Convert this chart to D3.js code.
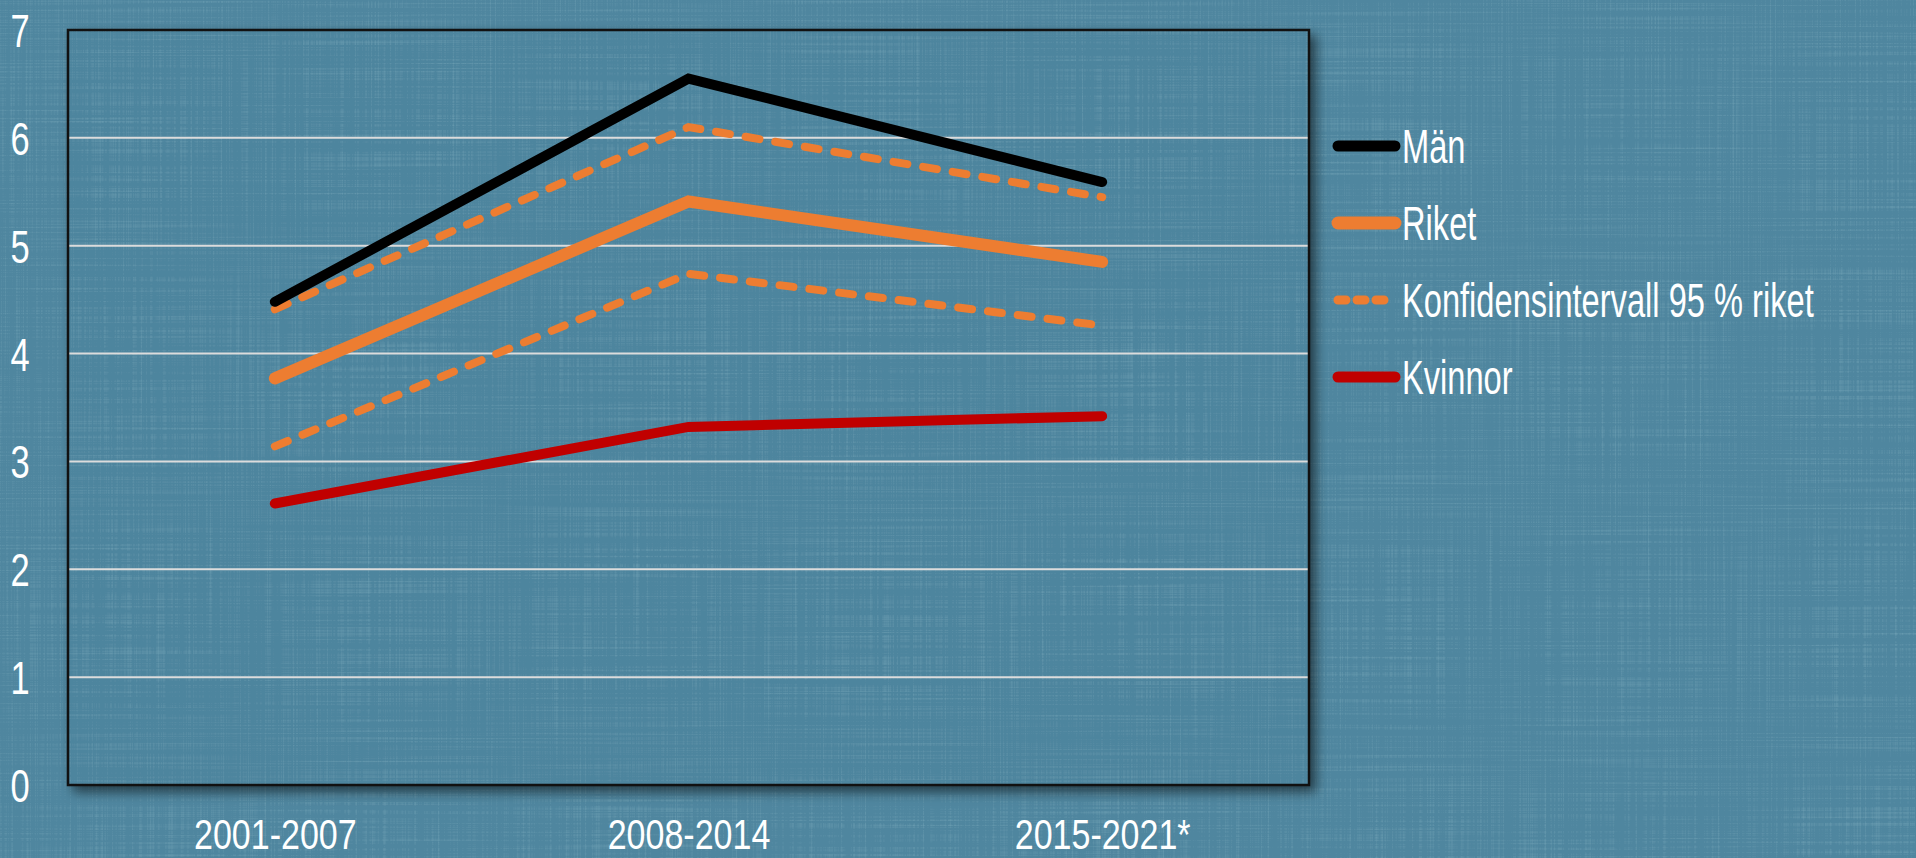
<!DOCTYPE html>
<html>
<head>
<meta charset="utf-8">
<script src="https://cdn.jsdelivr.net/npm/d3@7"></script>
<style>
  html, body { margin: 0; padding: 0; background: #4f869f; overflow: hidden; }
  text { font-family: "Liberation Sans", Arial, sans-serif; fill: #fff; }
</style>
</head>
<body>
<div id="chart"></div>
<script>
// data
var periods = ["2001-2007", "2008-2014", "2015-2021*"];
var man = [4.48, 6.55, 5.59];
var riket = [3.77, 5.41, 4.85];
var konfUpper = [4.41, 6.10, 5.45];
var konfLower = [3.14, 4.74, 4.26];
var kvinnor = [2.61, 3.32, 3.42];
var yTicks = [0, 1, 2, 3, 4, 5, 6, 7];

var W = 1916, H = 858;
var plot = {left: 68, top: 30, right: 1309, bottom: 785};

var svg = d3.select("#chart").append("svg")
    .attr("width", W)
    .attr("height", H);

var defs = svg.append("defs");

// linen-ish texture
var tex = defs.append("filter").attr("id", "linen")
    .attr("x", 0).attr("y", 0).attr("width", "100%").attr("height", "100%");
tex.append("feTurbulence").attr("type", "fractalNoise")
    .attr("baseFrequency", "0.004 0.6").attr("numOctaves", 2).attr("seed", 3).attr("result", "h");
tex.append("feTurbulence").attr("type", "fractalNoise")
    .attr("baseFrequency", "0.6 0.004").attr("numOctaves", 2).attr("seed", 7).attr("result", "v");
tex.append("feComposite").attr("in", "h").attr("in2", "v")
    .attr("operator", "arithmetic").attr("k2", 0.5).attr("k3", 0.5).attr("result", "n");
tex.append("feColorMatrix").attr("in", "n").attr("type", "matrix")
    .attr("values", "0 0 0 0 1  0 0 0 0 1  0 0 0 0 1  1.0 0 0 0 -0.5")
    .attr("result", "streaks");
tex.append("feComposite").attr("in", "streaks").attr("in2", "SourceGraphic").attr("operator", "in").attr("result", "s2");
tex.append("feBlend").attr("in", "s2").attr("in2", "SourceGraphic").attr("mode", "soft-light");

var shadow = defs.append("filter").attr("id", "shadow")
    .attr("x", "-5%").attr("y", "-5%").attr("width", "115%").attr("height", "115%");
shadow.append("feDropShadow").attr("dx", 6).attr("dy", 6).attr("stdDeviation", 6)
    .attr("flood-color", "#000").attr("flood-opacity", 0.55);

svg.append("rect")
    .attr("width", W).attr("height", H)
    .attr("fill", "#4f869f")
    .attr("filter", "url(#linen)");

var x = d3.scalePoint()
    .domain(periods)
    .range([plot.left, plot.right])
    .padding(0.5);

var y = d3.scaleLinear()
    .domain([0, 7])
    .range([plot.bottom, plot.top]);

// plot box with shadow
svg.append("rect")
    .attr("x", plot.left).attr("y", plot.top)
    .attr("width", plot.right - plot.left).attr("height", plot.bottom - plot.top)
    .attr("fill", "#4e859e")
    .attr("stroke", "#111").attr("stroke-width", 2)
    .attr("filter", "url(#shadow)");

svg.append("rect")
    .attr("x", plot.left + 1).attr("y", plot.top + 1)
    .attr("width", plot.right - plot.left - 2).attr("height", plot.bottom - plot.top - 2)
    .attr("fill", "#4e859e")
    .attr("filter", "url(#linen)");

// gridlines
svg.append("g")
    .selectAll("line")
    .data(yTicks.filter(function(d) { return d > 0 && d < 7; }))
    .enter().append("line")
    .attr("x1", plot.left).attr("x2", plot.right)
    .attr("y1", function(d) { return y(d); })
    .attr("y2", function(d) { return y(d); })
    .attr("stroke", "#dcdcdc")
    .attr("stroke-width", 2);

svg.append("rect")
    .attr("x", plot.left).attr("y", plot.top)
    .attr("width", plot.right - plot.left).attr("height", plot.bottom - plot.top)
    .attr("fill", "none")
    .attr("stroke", "#111").attr("stroke-width", 2.5);

// y axis labels
var yAxis = d3.axisLeft(y).tickValues(yTicks).tickFormat(d3.format("d")).tickSize(0).tickPadding(0);
var gy = svg.append("g")
    .attr("transform", "translate(20,0)")
    .call(yAxis);
gy.select(".domain").remove();
gy.selectAll("text")
    .attr("x", 0)
    .attr("text-anchor", "middle")
    .attr("font-size", 46)
    .attr("fill", "#fff")
    .attr("dy", "0.36em")
    .attr("transform", "scale(0.75,1)")
    .style("font-family", null);

// x axis labels
var xAxis = d3.axisBottom(x).tickSize(0).tickPadding(0);
var gx = svg.append("g")
    .attr("transform", "translate(0,849)")
    .call(xAxis);
gx.select(".domain").remove();
gx.selectAll("text")
    .attr("y", 0)
    .attr("font-size", 42)
    .attr("fill", "#fff")
    .attr("dy", 0)
    .attr("transform", "scale(0.81,1)")
    .style("font-family", null);

var series = [
    {name: "Män", values: man, color: "#000000", width: 10, dash: null},
    {name: "Riket", values: riket, color: "#ed7d31", width: 12, dash: null},
    {name: "Konfidensintervall 95 % riket", values: konfUpper, color: "#ed7d31", width: 8, dash: "14,16"},
    {name: "Kvinnor", values: kvinnor, color: "#c00000", width: 10, dash: null}
];
var konfLowerSeries = {name: "lower", values: konfLower, color: "#ed7d31", width: 8, dash: "14,16"};

var line = d3.line()
    .x(function(d, i) { return x(periods[i]); })
    .y(function(d) { return y(d); });

var drawOrder = [konfLowerSeries, series[3], series[2], series[1], series[0]];
svg.append("g")
    .selectAll("path")
    .data(drawOrder)
    .enter().append("path")
    .attr("d", function(s) { return line(s.values); })
    .attr("fill", "none")
    .attr("stroke", function(s) { return s.color; })
    .attr("stroke-width", function(s) { return s.width; })
    .attr("stroke-dasharray", function(s) { return s.dash; })
    .attr("stroke-linecap", "round")
    .attr("stroke-linejoin", "miter");

// legend
var legend = svg.append("g")
    .attr("transform", "translate(1333,146)");
var item = legend.selectAll("g")
    .data(series)
    .enter().append("g")
    .attr("transform", function(d, i) { return "translate(0," + (i * 77) + ")"; });
item.append("line")
    .attr("x1", 5).attr("x2", 62)
    .attr("y1", 0).attr("y2", 0)
    .attr("stroke", function(d) { return d.color; })
    .attr("stroke-width", function(d) { return d.width + 1; })
    .attr("stroke-dasharray", function(d) { return d.dash ? "8,11" : null; })
    .attr("stroke-linecap", "round");
item.append("text")
    .attr("x", 0).attr("y", 0)
    .attr("transform", "translate(69,0) scale(0.68,1)")
    .attr("font-size", 48)
    .attr("dy", "0.36em")
    .text(function(d) { return d.name; });
</script>
</body>
</html>
